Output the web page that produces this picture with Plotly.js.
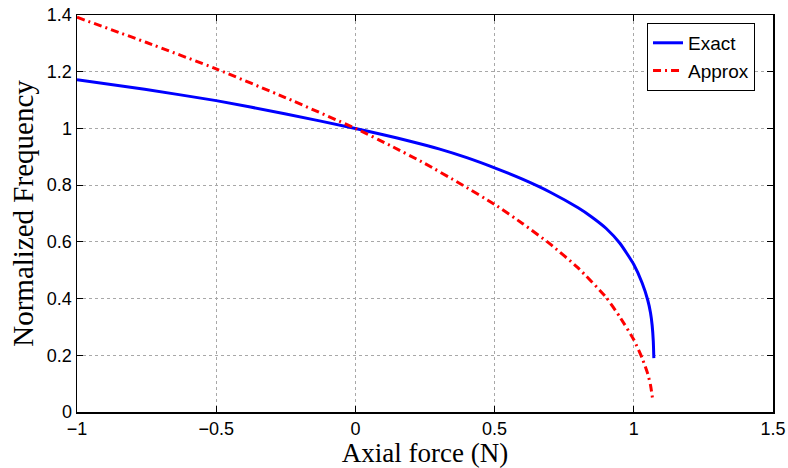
<!DOCTYPE html>
<html>
<head>
<meta charset="utf-8">
<script src="https://cdn.plot.ly/plotly-3.0.1.min.js"></script>
<style>html,body{margin:0;padding:0;background:#fff;}#chart{width:788px;height:468px;}</style>
</head>
<body>
<div id="chart"></div>
<script>
// Data
const exactX = [-1.0, -0.757, -0.5, -0.254, 0.0, 0.1, 0.2, 0.3, 0.4, 0.5, 0.6, 0.7, 0.8, 0.85, 0.9, 0.95, 1.0, 1.03, 1.05, 1.06, 1.066, 1.07, 1.072];
const exactY = [1.172, 1.138, 1.098, 1.052, 1.0, 0.978, 0.954, 0.928, 0.897, 0.861, 0.821, 0.775, 0.720, 0.687, 0.648, 0.595, 0.520, 0.455, 0.395, 0.350, 0.305, 0.250, 0.190];
const approxX = [-1.0, -0.75, -0.5, -0.25, 0.0, 0.125, 0.25, 0.375, 0.5, 0.6, 0.7, 0.8, 0.9, 0.95, 1.0, 1.03, 1.05, 1.06, 1.068];
const approxY = [1.392, 1.303, 1.21, 1.108, 1.0, 0.94, 0.876, 0.806, 0.732, 0.665, 0.592, 0.508, 0.405, 0.335, 0.255, 0.19, 0.135, 0.095, 0.043];
const seriesNames = ['Exact', 'Approx'];
const xTicks = [-1, -0.5, 0, 0.5, 1, 1.5];
const xTickText = ['\u22121', '\u22120.5', '0', '0.5', '1', '1.5'];
const yTicks = [0, 0.2, 0.4, 0.6, 0.8, 1, 1.2, 1.4];
const yTickText = ['0', '0.2', '0.4', '0.6', '0.8', '1', '1.2', '1.4'];

const traces = [
  {x: exactX, y: exactY, name: seriesNames[0], mode: 'lines', line: {color: '#0000ff', width: 3, shape: 'spline', smoothing: 0.5}},
  {x: approxX, y: approxY, name: seriesNames[1], mode: 'lines', line: {color: '#ff0000', width: 3, dash: '8px,4px,2px,4px', shape: 'spline', smoothing: 0.5}}
];

const axisCommon = {
  showline: true, linecolor: '#000', linewidth: 1.5, mirror: 'allticks',
  ticks: 'inside', ticklen: 6, tickcolor: '#000', tickwidth: 1,
  showgrid: true, gridcolor: '#a8a8a8', gridwidth: 1, griddash: 'dot',
  zeroline: false,
  tickfont: {family: 'Liberation Sans, Arial, sans-serif', size: 18, color: '#000'}
};

const layout = {
  width: 788, height: 468,
  margin: {l: 77, r: 15, t: 15, b: 56},
  paper_bgcolor: '#fff', plot_bgcolor: '#fff',
  showlegend: true,
  legend: {
    x: 0.819, y: 0.98, xanchor: 'left', yanchor: 'top',
    bgcolor: '#fff', bordercolor: '#000', borderwidth: 1,
    font: {family: 'Liberation Sans, Arial, sans-serif', size: 19, color: '#000'},
    tracegroupgap: 0, itemwidth: 30
  },
  xaxis: Object.assign({}, axisCommon, {
    range: [-1, 1.5], tickmode: 'array', tickvals: xTicks, ticktext: xTickText,
    title: {text: 'Axial force (N)', font: {family: 'Liberation Serif, Times New Roman, serif', size: 27, color: '#000'}, standoff: 5}
  }),
  yaxis: Object.assign({}, axisCommon, {
    range: [0, 1.4], tickmode: 'array', tickvals: yTicks, ticktext: yTickText,
    title: {text: 'Normalized Frequency', font: {family: 'Liberation Serif, Times New Roman, serif', size: 29, color: '#000'}, standoff: 4}
  })
};

Plotly.newPlot('chart', traces, layout, {displayModeBar: false, staticPlot: true});
</script>
</body>
</html>
